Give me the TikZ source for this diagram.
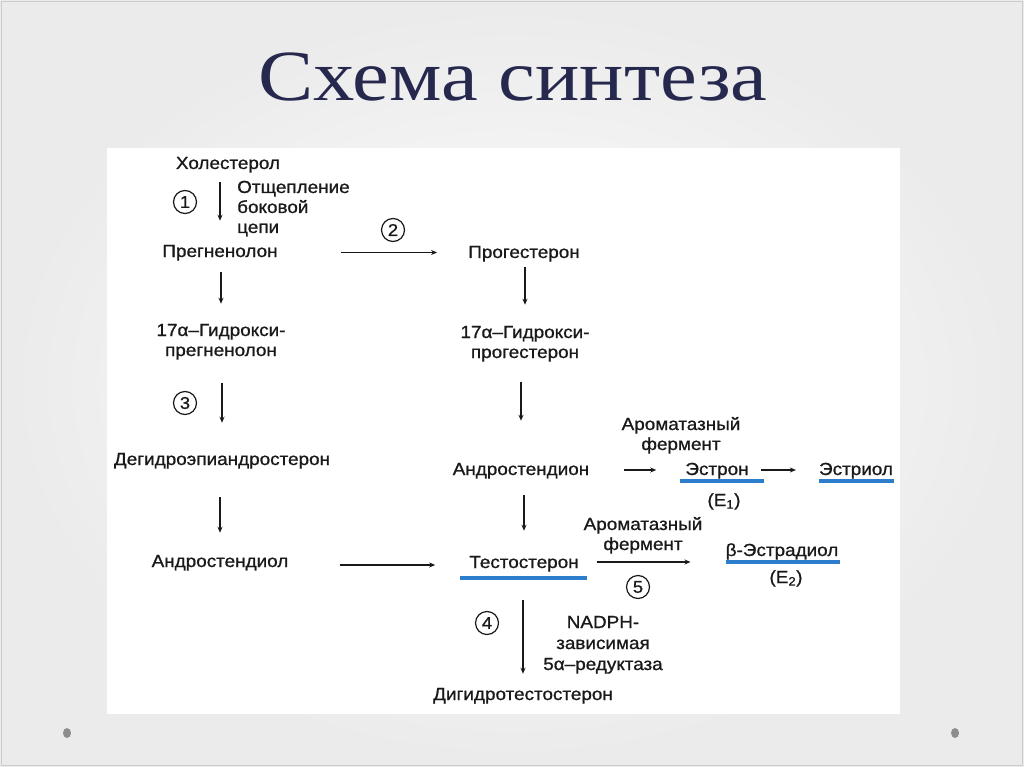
\documentclass[tikz,border=0pt]{standalone}
\usepackage{fontspec}
\setmainfont{Liberation Sans}[FakeStretch=1.08,FakeBold=0.9]
\newfontfamily\titlefont{Liberation Serif}[FakeStretch=1.15]
\usetikzlibrary{arrows.meta}
\definecolor{titlecol}{RGB}{38,40,78}
\definecolor{ulblue}{RGB}{45,125,205}
\definecolor{dotgray}{RGB}{140,140,140}
\definecolor{ink}{RGB}{25,25,25}
\begin{document}
\begin{tikzpicture}[x=1pt,y=-1pt,
  lbl/.style={font=\fontsize{17.5}{20}\selectfont, inner sep=0pt, anchor=base, text=ink},
  ml/.style={lbl, align=center},
  num/.style={circle, draw=ink, line width=1.2pt, minimum size=23pt, inner sep=0pt, text=ink, font=\fontsize{17}{17}\selectfont},
  arr/.style={draw=ink, line width=1.2pt, -{Stealth[length=6pt,width=5pt]}},
  uline/.style={ulblue, line width=4pt},
]
\useasboundingbox (0,0) rectangle (1024,767);
% background
\shade[inner color=white, outer color=black!8] (0,0) rectangle (1024,767);
\draw[black!20, line width=1pt] (1.5,1.5) rectangle (1022.5,765);
\fill[dotgray] (67,733) ellipse [x radius=4, y radius=5];
\fill[dotgray] (955,733) ellipse [x radius=4, y radius=5];
\fill[white] (107,148) rectangle (900,714);

% title
\node[font=\titlefont\fontsize{72}{72}\selectfont, text=titlecol, inner sep=0pt, anchor=base] (title) at (513,101) {Схема синтеза};

% left column (base of a multi-line node = baseline of its last line)
\node[lbl] (chol) at (228,169) {Холестерол};
\node[lbl, align=left, anchor=base west] (split) at (237,233) {Отщепление\\боковой\\цепи};
\node[num] (c1) at (185,202) {1};
\node[lbl] (preg) at (220,257) {Прегненолон};
\node[ml] (hpreg) at (221,356) {17α–Гидрокси-\\прегненолон};
\node[num] (c3) at (185,403) {3};
\node[lbl] (dhea) at (222,465) {Дегидроэпиандростерон};
\node[lbl] (adiol) at (220,567) {Андростендиол};

% right column
\node[num] (c2) at (393,230) {2};
\node[lbl] (prog) at (524,258) {Прогестерон};
\node[ml] (hprog) at (525,358) {17α–Гидрокси-\\прогестерон};
\node[lbl] (andione) at (521,475) {Андростендион};
\node[ml] (arom1) at (681,450) {Ароматазный\\фермент};
\node[lbl] (estrone) at (717,475) {Эстрон};
\node[lbl] (e1) at (724,506) {(E\textsubscript{1})};
\node[lbl] (estriol) at (856,475) {Эстриол};
\node[lbl] (test) at (524,568) {Тестостерон};
\node[ml] (arom2) at (643,550) {Ароматазный\\фермент};
\node[num] (c5) at (638,587) {5};
\node[lbl] (estradiol) at (782,556) {β-Эстрадиол};
\node[lbl] (e2) at (786,583) {(E\textsubscript{2})};
\node[num] (c4) at (487,623) {4};
\node[ml, font=\fontsize{17.5}{21}\selectfont] (nadph) at (603,670) {NADPH-\\зависимая\\5α–редуктаза};
\node[lbl] (dht) at (523,700) {Дигидротестостерон};

% underlines
\draw[uline] ([xshift=-9pt,yshift=-10pt]test.base west) -- ([xshift=8pt,yshift=-10pt]test.base east);
\draw[uline] ([xshift=-5pt,yshift=-6pt]estrone.base west) -- ([xshift=15pt,yshift=-6pt]estrone.base east);
\draw[uline] ([yshift=-6pt]estriol.base west) -- ([xshift=1pt,yshift=-6pt]estriol.base east);
\draw[uline] ([yshift=-6pt]estradiol.base west) -- ([xshift=1pt,yshift=-6pt]estradiol.base east);

% vertical arrows
\draw[arr, shorten <=9pt, shorten >=24pt] (chol.south -| preg.north) -- (preg.north);
\draw[arr, shorten <=11pt, shorten >=20pt] (preg.south -| hpreg.north) -- (hpreg.north);
\draw[arr, shorten <=23pt, shorten >=30pt] (hpreg.south -| dhea.north) -- (dhea.north);
\draw[arr, shorten <=28pt, shorten >=22pt] (dhea.south -| adiol.north) -- (adiol.north);
\draw[arr, shorten <=5pt, shorten >=21pt] (prog.south -| hprog.north) -- (hprog.north);
\draw[arr, shorten <=20pt, shorten >=42pt] (hprog.south -| andione.north) -- (andione.north);
\draw[arr, shorten <=16pt, shorten >=25pt] (andione.south -| test.north) -- (test.north);
\draw[arr, shorten <=28pt, shorten >=14pt] (test.south -| dht.north) -- (dht.north);

% horizontal arrows
\draw[arr, shorten <=63pt, shorten >=31pt] ([yshift=4.5pt]preg.base east) -- ([yshift=4.5pt]preg.base east -| prog.west);
\draw[arr, shorten <=51pt, shorten >=34pt] ([yshift=2pt]adiol.base east) -- ([yshift=2pt]adiol.base east -| test.west);
\draw[arr, shorten <=35pt, shorten >=29pt] ([yshift=5pt]andione.base east) -- ([yshift=5pt]andione.base east -| estrone.west);
\draw[arr, shorten <=12pt, shorten >=23pt] ([yshift=5pt]estrone.base east) -- ([yshift=5pt]estrone.base east -| estriol.west);
\draw[arr, shorten <=18pt, shorten >=35pt] ([yshift=6pt]test.base east) -- ([yshift=6pt]test.base east -| estradiol.west);
\end{tikzpicture}
\end{document}
